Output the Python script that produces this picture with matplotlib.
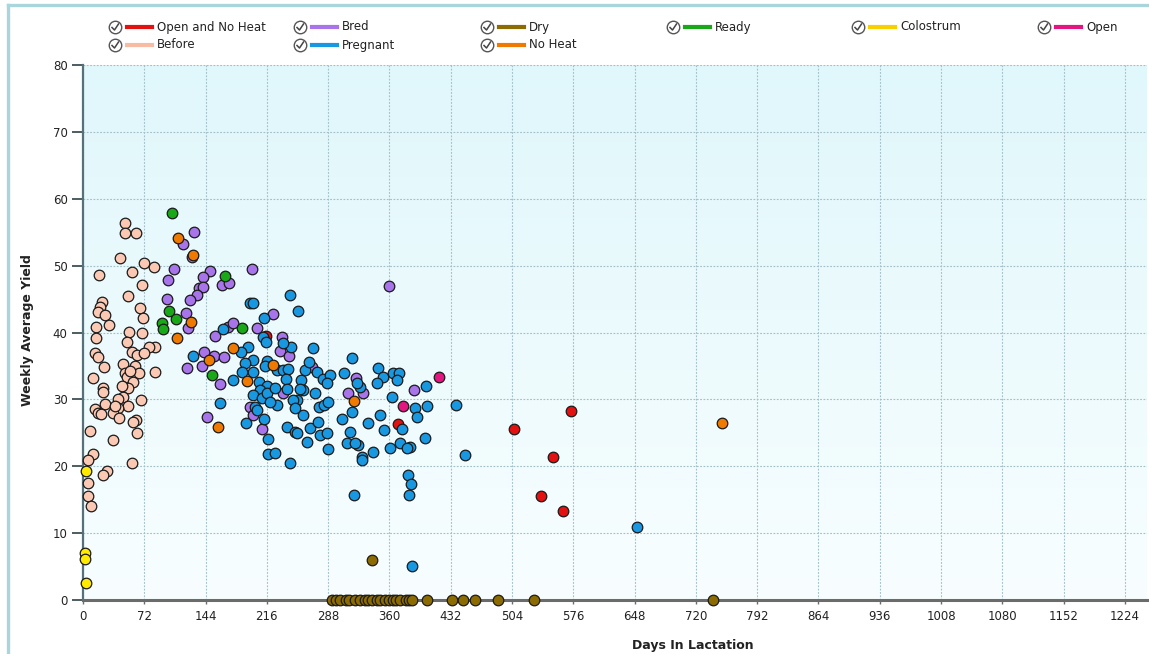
import numpy as np
import matplotlib
matplotlib.use('Agg')
import matplotlib.pyplot as plt
from matplotlib.lines import Line2D
from matplotlib.colors import LinearSegmentedColormap

# (days in lactation, weekly average yield)
open_no_heat = [(370, 26.3), (215, 39.5), (506.3, 25.6), (573.2, 28.3), (552.1, 21.4),
                (538, 15.6), (563.8, 13.3)]

bred = [(130.4, 55.0), (117.5, 53.2), (128, 51.3), (106.9, 49.5), (99.8, 47.9), (149.2, 49.2),
        (141, 48.3), (163.3, 47.1), (171.5, 47.4), (198.5, 49.5), (136.3, 46.7), (141, 46.8),
        (133.9, 45.6), (125.7, 44.9), (98.7, 45.0), (121, 42.9), (123.3, 40.7), (155, 39.5),
        (170.3, 40.8), (176.2, 41.4), (204.4, 40.7), (223.2, 42.8), (233.8, 39.3), (231.4, 37.2),
        (242, 36.5), (142.1, 37.1), (153.9, 36.5), (165.6, 36.3), (122.2, 34.7), (139.8, 35.0),
        (160.9, 32.3), (145.7, 27.4), (210.3, 25.6), (234.9, 31.0), (359.4, 47.0), (196.2, 28.9),
        (199.7, 27.7), (269, 34.8), (320.7, 33.2), (311.3, 31.0), (328.9, 31.0), (388.8, 31.4)]

dry = [(293, 0), (297, 0), (302, 0), (309, 0), (313, 0), (319, 0), (325, 0), (331, 0), (335, 0),
       (340, 0), (345, 0), (349, 0), (355, 0), (359, 0), (364, 0), (368, 0), (373, 0), (379, 0),
       (383, 0), (387, 0), (404, 0), (433, 0), (446, 0), (461, 0), (488, 0), (530, 0), (740.6, 0),
       (339.5, 6.0)]

ready = [(104.5, 57.9), (101, 43.2), (109, 42.0), (92.8, 41.4), (94, 40.5), (166.8, 48.4),
         (186.8, 40.7), (151.5, 33.6)]

colostrum = [(3.5, 19.3), (2.3, 7.0), (2.3, 6.1), (3.5, 2.5)]

open_ = [(418.2, 33.3), (375.9, 29.0)]

before = [(49.3, 56.4), (49.3, 54.9), (62.3, 54.9), (43.5, 51.1), (71.7, 50.4), (83.4, 49.8),
          (18.8, 48.6), (57.6, 49.0), (69.3, 47.1), (52.9, 45.4), (22.3, 44.6), (20.0, 43.8),
          (17.6, 43.1), (25.8, 42.6), (67.0, 43.7), (70.5, 42.2), (15.3, 40.8), (30.5, 41.1),
          (15.3, 39.2), (54.0, 40.1), (69.3, 39.9), (51.7, 38.6), (84.6, 37.8), (77.5, 37.8),
          (14.1, 36.9), (17.6, 36.3), (57.6, 37.1), (63.4, 36.6), (71.7, 36.9), (24.7, 34.8),
          (47.0, 35.3), (61.1, 35.0), (65.8, 33.9), (49.3, 33.9), (51.7, 33.3), (84.6, 34.1),
          (11.7, 33.2), (58.7, 32.6), (23.5, 31.7), (23.5, 31.1), (52.9, 31.7), (47.0, 30.4),
          (41.1, 30.1), (25.8, 29.3), (52.9, 29.0), (68.1, 29.9), (14.1, 28.6), (17.6, 28.0),
          (21.1, 27.8), (41.1, 28.7), (35.2, 28.0), (42.3, 27.2), (62.3, 26.9), (58.7, 26.6),
          (8.2, 25.3), (63.4, 25.0), (35.2, 23.9), (11.7, 21.8), (5.9, 20.9), (57.6, 20.5),
          (28.2, 19.3), (23.5, 18.7), (5.9, 17.5), (5.9, 15.6), (9.4, 14.1), (45.5, 32.0),
          (55.0, 34.3), (38.0, 29.0)]

pregnant = [(196.2, 44.4), (199.7, 44.4), (212.6, 42.2), (164.5, 40.5), (129.2, 36.5), (211.4, 39.3),
            (215, 38.6), (160.9, 29.5), (191.5, 26.5), (217.3, 24.1), (217.3, 21.8), (225.5, 22.0),
            (212.6, 27.1), (176.2, 32.9), (243.2, 45.6), (252.6, 43.2), (193.8, 37.8), (185.6, 37.1),
            (199.7, 35.9), (216.1, 35.7), (190.3, 35.4), (186.8, 34.1), (199.7, 34.1), (213.8, 35.0),
            (206.7, 32.6), (216.1, 32.0), (227.9, 34.4), (234.9, 34.4), (240.8, 34.5), (238.5, 33.0),
            (244.3, 37.8), (234.9, 38.4), (270.2, 37.7), (207.9, 31.4), (199.7, 30.7), (210.3, 30.2),
            (216.1, 31.0), (225.5, 31.7), (239.6, 31.6), (202, 28.9), (204.4, 28.4), (227.9, 29.2),
            (243.2, 20.5), (239.6, 25.9), (249, 25.1), (251.4, 29.9), (258.4, 31.4), (256, 32.9),
            (260.8, 34.4), (274.9, 34.1), (281.9, 33.0), (290.1, 33.6), (286.6, 32.4), (272.5, 31.0),
            (277.2, 28.9), (283.1, 29.2), (287.8, 29.6), (258.4, 27.7), (266.6, 25.7), (276, 26.6),
            (278.4, 24.7), (286.6, 25.0), (263.1, 23.6), (287.8, 22.6), (306.6, 33.9), (316, 36.2),
            (325.4, 31.9), (316, 28.1), (304.2, 27.1), (310.1, 23.5), (313.6, 25.1), (323, 23.2),
            (327.7, 21.4), (327.7, 20.9), (334.8, 26.5), (340.7, 22.1), (348.9, 27.7), (353.6, 25.4),
            (360.6, 22.7), (372.4, 23.5), (384.1, 22.9), (374.7, 25.6), (401.7, 24.2), (381.8, 18.7),
            (385.3, 17.3), (383, 15.7), (346.5, 34.7), (352.4, 33.3), (364.1, 33.9), (371.2, 33.9),
            (368.8, 32.9), (345.4, 32.4), (363, 30.4), (402.9, 32.0), (390, 28.7), (392.3, 27.4),
            (404.1, 29.0), (438.2, 29.2), (448.7, 21.7), (386.5, 5.1), (650.8, 10.9), (265.4, 35.6),
            (321.4, 32.4), (254.9, 31.6), (246.7, 29.9), (249, 28.7), (219.7, 29.6), (251.4, 25.0),
            (319.5, 23.5), (380.6, 22.7), (318.3, 15.7)]

no_heat = [(111.6, 54.1), (129.2, 51.6), (126.9, 41.6), (110.4, 39.2), (176.2, 37.7), (148, 35.9),
           (192.6, 32.7), (158.6, 25.9), (223.2, 35.1), (318.3, 29.8), (751, 26.4)]

x_ticks = list(range(0, 1225, 72))
y_ticks = list(range(0, 81, 10))

# legend order (two rows, six columns)
legend_row1 = ['Open and No Heat', 'Bred', 'Dry', 'Ready', 'Colostrum', 'Open']
legend_row2 = ['Before', 'Pregnant', 'No Heat']

colors = {
    'Open and No Heat': '#e41111',
    'Bred': '#a874ea',
    'Dry': '#8c6b00',
    'Ready': '#18a818',
    'Colostrum': '#f8d000',
    'Open': '#e3157f',
    'Before': '#f8bca4',
    'Pregnant': '#1898e0',
    'No Heat': '#f07a00',
}
dot_colors = dict(colors)
dot_colors['Colostrum'] = '#ffea00'
dot_colors['Before'] = '#fbc9b3'

series = {
    'Open and No Heat': open_no_heat,
    'Bred': bred,
    'Dry': dry,
    'Ready': ready,
    'Colostrum': colostrum,
    'Open': open_,
    'Before': before,
    'Pregnant': pregnant,
    'No Heat': no_heat,
}
draw_order = ['Open and No Heat', 'Bred', 'Ready', 'Colostrum', 'Open', 'Before', 'Pregnant', 'No Heat', 'Dry']

W, H = 1149, 654
fig = plt.figure(figsize=(W / 100, H / 100), dpi=100)
plt.rcParams['font.family'] = 'DejaVu Sans'

ax = fig.add_axes([83 / W, 1 - 600 / H, (1147 - 83) / W, (600 - 65) / H])

# soft cyan background that fades toward the bottom
cmap = LinearSegmentedColormap.from_list('bg', ['#f8feff', '#e0f7fb'])
ax.imshow(np.linspace(0, 1, 256).reshape(-1, 1), cmap=cmap, origin='lower', aspect='auto',
          extent=[0, 1, 0, 1], transform=ax.transAxes, zorder=0)

for name in draw_order:
    pts = np.array(series[name])
    ax.scatter(pts[:, 0], pts[:, 1], s=58, color=dot_colors[name], edgecolors='#1a1a1a',
               linewidths=0.9, zorder=5, clip_on=False)

ax.set_xlim(0, 1250)
ax.set_ylim(0, 80)
ax.set_xticks(x_ticks)
ax.set_yticks(y_ticks)
ax.grid(True, color='#a3c0c9', linestyle=(0, (1.6, 1.4)), linewidth=0.8, zorder=1)
ax.set_axisbelow(True)

for side in ['top', 'right']:
    ax.spines[side].set_visible(False)
ax.spines['left'].set_color('#56717a')
ax.spines['left'].set_linewidth(1.6)
ax.spines['bottom'].set_color('#6b6b6b')
ax.spines['bottom'].set_linewidth(2.2)
ax.spines['left'].set_zorder(4)
ax.spines['bottom'].set_zorder(4)

ax.tick_params(axis='y', direction='out', length=8, width=1.3, color='#3f4f55',
               labelsize=8.5, labelcolor='#222222', pad=3)
ax.tick_params(axis='x', direction='out', length=3, width=1, color='#6b6b6b',
               labelsize=8.5, labelcolor='#222222', pad=4)

fig.text(28 / W, 1 - 330 / H, 'Weekly Average Yield', rotation=90, ha='center', va='center',
         fontsize=9, fontweight='bold', color='#222222')
fig.text(693 / W, 1 - 645 / H, 'Days In Lactation', ha='center', va='center',
         fontsize=9, fontweight='bold', color='#222222')

# outer frame (top and left edges)
fig.add_artist(Line2D([8 / W, 1], [1 - 5 / H, 1 - 5 / H], transform=fig.transFigure,
                      color='#a9d6dc', linewidth=2.4))
fig.add_artist(Line2D([8 / W, 8 / W], [0, 1 - 5 / H], transform=fig.transFigure,
                      color='#a9d6dc', linewidth=2.4))

# legend with check-circle icons
col_x = [115, 300, 487, 673, 858, 1044]
row_y = [27, 45]
for r, labels in enumerate([legend_row1, legend_row2]):
    for c, label in enumerate(labels):
        px, py = col_x[c], row_y[r]
        fx, fy = px / W, 1 - py / H
        fig.add_artist(Line2D([fx], [fy], transform=fig.transFigure, marker='o', markersize=9,
                              markerfacecolor='white', markeredgecolor='#555555',
                              markeredgewidth=1.0, linestyle='none'))
        fig.add_artist(Line2D([(px - 3) / W, (px - 0.5) / W, (px + 3.5) / W],
                              [1 - (py + 0.5) / H, 1 - (py + 3) / H, 1 - (py - 3) / H],
                              transform=fig.transFigure, color='#444444', linewidth=1.1))
        fig.add_artist(Line2D([(px + 12) / W, (px + 37) / W], [fy, fy], transform=fig.transFigure,
                              color=colors[label], linewidth=3))
        fig.text((px + 42) / W, fy, label, ha='left', va='center', fontsize=8.5, color='#222222')

plt.savefig('out.png', dpi=100)
